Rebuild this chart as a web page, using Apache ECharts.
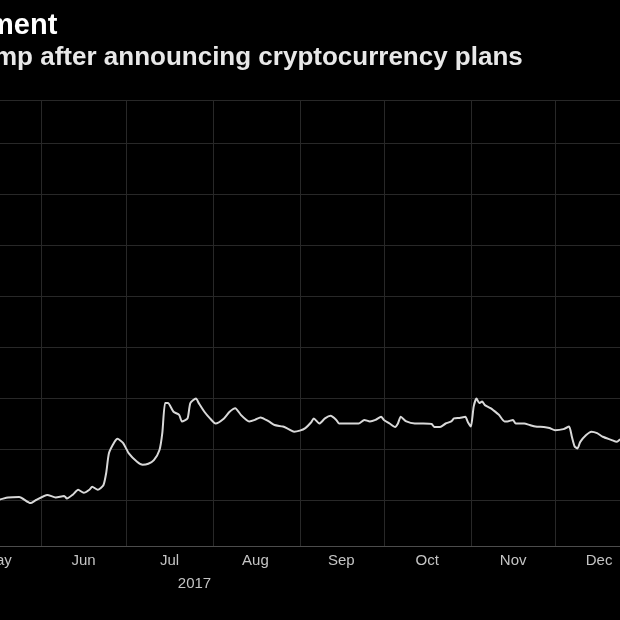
<!DOCTYPE html>
<html>
<head>
<meta charset="utf-8">
<style>
html,body{margin:0;padding:0;background:#000;}
#chart{width:620px;height:620px;}
</style>
<script src="https://cdn.jsdelivr.net/npm/echarts@6/dist/echarts.min.js"></script>
</head>
<body>
<div id="chart"></div>
<script>
var titleText = 'ment';
var subtitleText = 'mp after announcing cryptocurrency plans';
var monthLabels = ['May', 'Jun', 'Jul', 'Aug', 'Sep', 'Oct', 'Nov', 'Dec'];
var yearLabel = '2017';

var dates = [
  '2017-05-12','2017-05-15','2017-05-17','2017-05-20','2017-05-24','2017-05-28','2017-05-30',
  '2017-06-03','2017-06-06','2017-06-09','2017-06-10','2017-06-12','2017-06-14','2017-06-16',
  '2017-06-18','2017-06-19','2017-06-21','2017-06-23','2017-06-24','2017-06-25','2017-06-27',
  '2017-06-28','2017-06-30','2017-07-02','2017-07-05','2017-07-07','2017-07-09','2017-07-11',
  '2017-07-13','2017-07-14','2017-07-15','2017-07-16','2017-07-18','2017-07-20','2017-07-21',
  '2017-07-23','2017-07-24','2017-07-26','2017-07-27','2017-07-29','2017-07-31','2017-08-02',
  '2017-08-05','2017-08-07','2017-08-09','2017-08-11','2017-08-13','2017-08-14','2017-08-16',
  '2017-08-18','2017-08-21','2017-08-23','2017-08-26','2017-08-28','2017-08-30','2017-09-01',
  '2017-09-03','2017-09-05','2017-09-06','2017-09-08','2017-09-10','2017-09-12','2017-09-14',
  '2017-09-15','2017-09-19','2017-09-22','2017-09-24','2017-09-26','2017-09-28','2017-09-30',
  '2017-10-01','2017-10-03','2017-10-05','2017-10-06','2017-10-07','2017-10-09','2017-10-12',
  '2017-10-15','2017-10-18','2017-10-19','2017-10-21','2017-10-23','2017-10-25','2017-10-26',
  '2017-10-28','2017-10-30','2017-10-31','2017-11-01','2017-11-02','2017-11-03','2017-11-04',
  '2017-11-05','2017-11-06','2017-11-08','2017-11-09','2017-11-11','2017-11-13','2017-11-14',
  '2017-11-16','2017-11-17','2017-11-20','2017-11-22','2017-11-24','2017-11-27','2017-11-29',
  '2017-12-01','2017-12-04','2017-12-06','2017-12-07','2017-12-08','2017-12-09','2017-12-10',
  '2017-12-12','2017-12-14','2017-12-16','2017-12-18','2017-12-21','2017-12-23','2017-12-24',
  '2017-12-26'
];
var prices = [
  0.97, 1.00, 1.01, 1.05, 1.06, 0.94, 1.00,
  1.10, 1.05, 1.08, 1.03, 1.10, 1.20, 1.14,
  1.20, 1.26, 1.20, 1.29, 1.53, 1.92, 2.14,
  2.20, 2.12, 1.92, 1.75, 1.69, 1.71, 1.78,
  1.98, 2.31, 2.90, 2.90, 2.73, 2.67, 2.54,
  2.60, 2.90, 2.99, 2.90, 2.73, 2.60, 2.50,
  2.60, 2.73, 2.80, 2.67, 2.57, 2.54, 2.57,
  2.62, 2.54, 2.47, 2.44, 2.39, 2.34, 2.36,
  2.41, 2.52, 2.60, 2.50, 2.60, 2.65, 2.57,
  2.50, 2.50, 2.50, 2.57, 2.54, 2.57, 2.63,
  2.57, 2.50, 2.43, 2.50, 2.63, 2.54, 2.50,
  2.50, 2.49, 2.43, 2.43, 2.50, 2.54, 2.60,
  2.61, 2.63, 2.52, 2.44, 2.83, 2.99, 2.90,
  2.93, 2.86, 2.80, 2.76, 2.67, 2.54, 2.54,
  2.57, 2.50, 2.50, 2.47, 2.44, 2.43, 2.41,
  2.37, 2.39, 2.44, 2.24, 2.05, 2.01, 2.14,
  2.27, 2.34, 2.31, 2.24, 2.18, 2.14, 2.18,
  2.22
];

var seriesData = dates.map(function (d, i) { return [d, prices[i]]; });

var chart = echarts.init(document.getElementById('chart'));
var labelFont = 'Liberation Sans';
chart.setOption({
  backgroundColor: '#000000',
  animation: false,
  title: [
    {
      text: titleText, left: -12, top: 11, padding: 0,
      textStyle: { color: '#ffffff', fontSize: 29, fontWeight: 'bold', fontFamily: labelFont }
    },
    {
      text: subtitleText, left: -6, top: 45, padding: 0,
      textStyle: { color: '#e8e8e8', fontSize: 26, fontWeight: 'bold', fontFamily: labelFont }
    }
  ],
  grid: { left: -45.3, right: -22, top: 100, bottom: 74, outerBoundsMode: 'none', containLabel: false },
  xAxis: [
    {
      type: 'time',
      min: '2017-05-01',
      max: '2018-01-01',
      splitNumber: 8,
      position: 'bottom',
      axisLine: { show: true, onZero: false, lineStyle: { color: '#4c4c4c', width: 1 } },
      axisTick: { show: false },
      axisLabel: { show: false },
      splitLine: { show: true, lineStyle: { color: '#282828', width: 1 } }
    },
    {
      type: 'category',
      data: monthLabels,
      boundaryGap: true,
      position: 'bottom',
      axisLine: { show: false },
      axisTick: { show: false },
      splitLine: { show: false },
      axisLabel: {
        interval: 0,
        color: '#c4c4c4',
        fontSize: 15,
        fontFamily: labelFont,
        lineHeight: 23,
        margin: 3,
        formatter: function (v) {
          return v === 'Jul' ? v + '\n{yr|' + yearLabel + '}' : v;
        },
        rich: {
          yr: { color: '#c4c4c4', fontSize: 15, fontFamily: labelFont, lineHeight: 23, padding: [0, 0, 0, 50] }
        }
      }
    }
  ],
  yAxis: {
    type: 'value',
    min: 0.098,
    max: 8.843,
    splitNumber: 8,
    minInterval: 1,
    maxInterval: 1,
    position: 'right',
    axisLine: { show: false },
    axisTick: { show: false },
    axisLabel: { show: false },
    splitLine: { show: true, lineStyle: { color: '#282828', width: 1 } }
  },
  series: [
    {
      type: 'line',
      xAxisIndex: 0,
      data: seriesData,
      showSymbol: false,
      smooth: 0.2,
      lineStyle: { color: '#d8d8d8', width: 2 }
    }
  ]
});
</script>
</body>
</html>
